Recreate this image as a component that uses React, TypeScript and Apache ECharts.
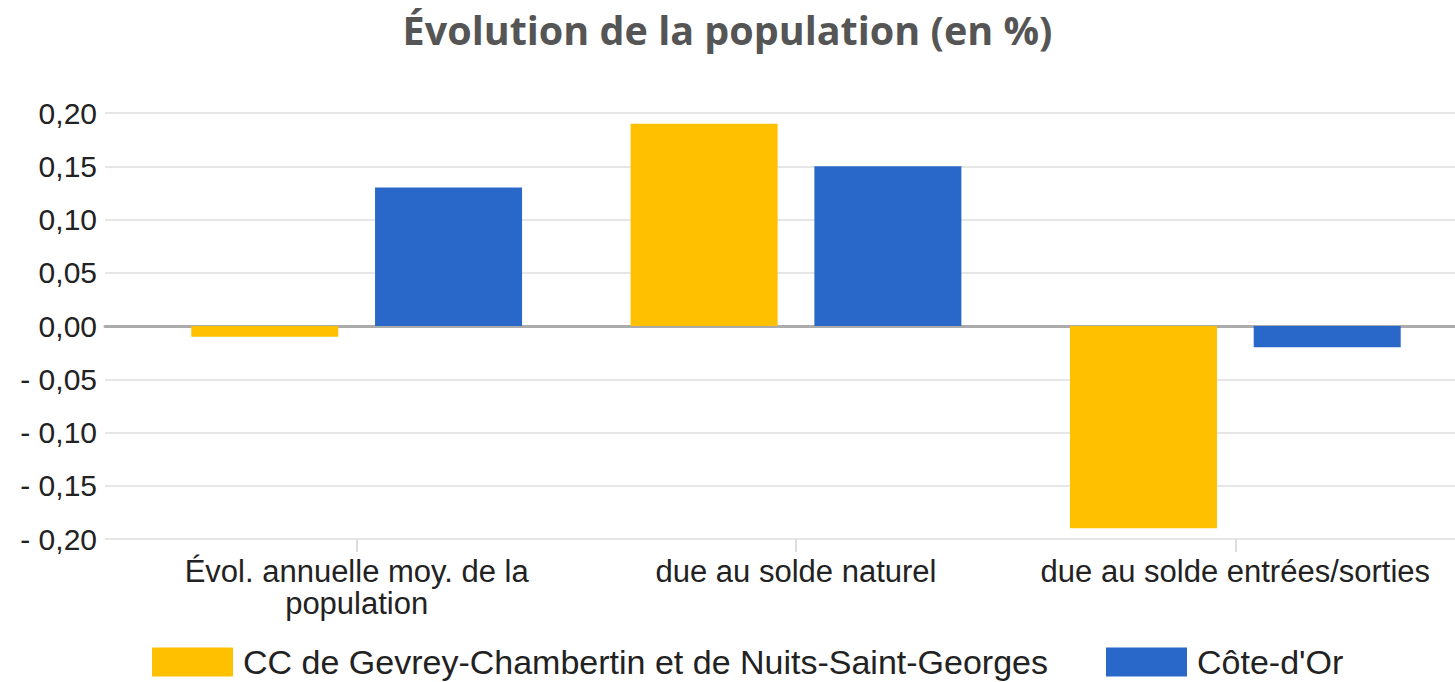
import React, { useEffect, useRef } from "react";
import * as echarts from "echarts";

const categories = [
  "Évol. annuelle moy. de la\npopulation",
  "due au solde naturel",
  "due au solde entrées/sorties",
];
const seriesNames = ["CC de Gevrey-Chambertin et de Nuits-Saint-Georges", "Côte-d'Or"];
const ccValues = [-0.01, 0.19, -0.19];
const coteDOrValues = [0.13, 0.15, -0.02];
const colors = ["#FFC000", "#2968C8"];

const fmt = (v: number) => {
  if (Math.abs(v) < 1e-9) return "0,00";
  const s = Math.abs(v).toFixed(2).replace(".", ",");
  return v < 0 ? "- " + s : s;
};

export default function App() {
  const ref = useRef<HTMLDivElement>(null);
  useEffect(() => {
    document.body.style.margin = "0";
    const chart = echarts.init(ref.current!, null, { renderer: "svg" });
    const font = "'Liberation Sans', Arial, sans-serif";
    chart.setOption({
      animation: false,
      backgroundColor: "#ffffff",
      title: {
        text: "Évolution de la population (en %)",
        left: "center",
        top: 5,
        textStyle: {
          fontFamily: "'Open Sans', sans-serif",
          fontWeight: "bold",
          fontSize: 39.5,
          color: "#555555",
        },
      },
      legend: {
        left: 147,
        top: 640,
        itemWidth: 81,
        itemHeight: 29,
        itemGap: 58,
        icon: "rect",
        textStyle: { fontFamily: font, fontSize: 34, color: "#222222", padding: [0, 0, 0, 5] },
        data: seriesNames,
      },
      grid: [
        { left: 105, right: 0, top: 113, height: 426 },
        { left: 137, width: 1320, top: 113, height: 426 },
      ],
      xAxis: [
        {
          gridIndex: 0,
          type: "value",
          min: 0,
          max: 1,
          axisLabel: { show: false },
          axisTick: { show: false },
          splitLine: { show: false },
          axisLine: { show: true, onZero: true, lineStyle: { color: "#ababab", width: 3 } },
        },
        {
          gridIndex: 1,
          type: "category",
          data: categories,
          axisLine: { show: false, onZero: false },
          axisTick: { show: true, alignWithLabel: true, length: 13, lineStyle: { color: "#dddddd", width: 2 } },
          axisLabel: {
            interval: 0,
            margin: 16,
            fontFamily: font,
            fontSize: 31,
            lineHeight: 32,
            color: "#222222",
          },
        },
      ],
      yAxis: [
        {
          gridIndex: 0,
          type: "value",
          min: -0.2,
          max: 0.2,
          interval: 0.05,
          axisLine: { show: false },
          axisTick: { show: false },
          axisLabel: { formatter: fmt, fontFamily: font, fontSize: 30, color: "#222222", margin: 8 },
          splitLine: { show: true, lineStyle: { color: "#e6e6e6", width: 2 } },
        },
        {
          gridIndex: 1,
          type: "value",
          min: -0.2,
          max: 0.2,
          interval: 0.05,
          show: false,
          splitLine: { show: false },
        },
      ],
      series: [
        {
          name: seriesNames[0],
          type: "bar",
          xAxisIndex: 1,
          yAxisIndex: 1,
          data: ccValues,
          barWidth: 147,
          barGap: "25%",
          itemStyle: { color: colors[0] },
        },
        {
          name: seriesNames[1],
          type: "bar",
          xAxisIndex: 1,
          yAxisIndex: 1,
          data: coteDOrValues,
          barWidth: 147,
          barGap: "25%",
          itemStyle: { color: colors[1] },
        },
      ],
    });
    return () => chart.dispose();
  }, []);
  return <div ref={ref} style={{ width: 1455, height: 682 }} />;
}
